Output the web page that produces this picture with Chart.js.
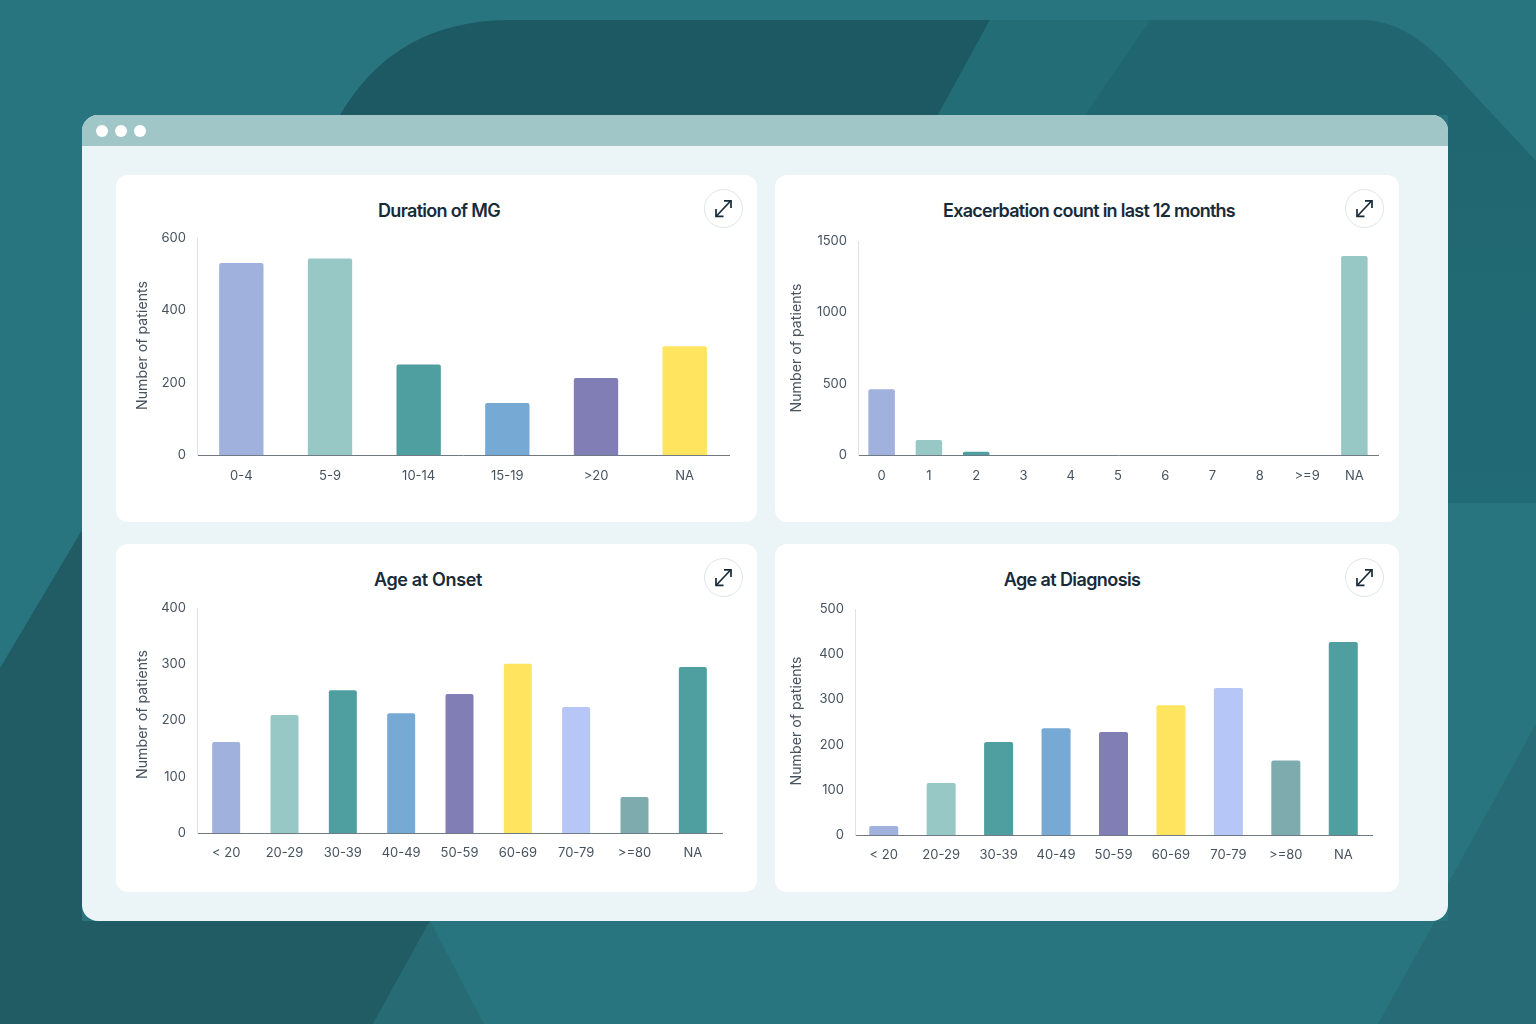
<!DOCTYPE html>
<html>
<head>
<meta charset="utf-8">
<title>Patient charts</title>
<script src="https://cdn.jsdelivr.net/npm/chart.js@4"></script>
<style>
  html, body { margin: 0; padding: 0; width: 1536px; height: 1024px; overflow: hidden; background: #28757f; font-family: Inter, sans-serif; }
  .bg { position: absolute; left: 0; top: 0; }
  .window { position: absolute; left: 82px; top: 115px; width: 1366px; height: 806px; background: #ebf4f6; border-radius: 16px; overflow: hidden; }
  .bar { height: 31px; background: #a1c6c7; }
  .dot { position: absolute; top: 10px; width: 12px; height: 12px; border-radius: 50%; background: #fff; }
  .card { position: absolute; background: #fff; border-radius: 12px; }
  .card canvas { position: absolute; left: 0; top: 0; }
  .title { position: absolute; top: 24.5px; transform: translateX(-50%); white-space: nowrap; font-size: 18px; line-height: 22px; font-weight: 600; color: #172b3a; }
  .expand { position: absolute; top: 14px; width: 37px; height: 37px; border: 1px solid #dfe5e9; border-radius: 50%; background: #fff; }
  .expand svg { position: absolute; left: 0; top: 0; }
</style>
</head>
<body>
<svg class="bg" width="1536" height="1024">
  <defs>
    <linearGradient id="rightFade" x1="0" y1="0" x2="0" y2="1">
      <stop offset="0" stop-color="#20656f"/>
      <stop offset="1" stop-color="#216b76"/>
    </linearGradient>
  </defs>
  <path d="M340 115 C 375 55 430 20 510 20 L 990 20 L 938 115 Z" fill="#1c5962"/>
  <path d="M990 20 L 1365 20 C 1405 22 1435 50 1465 85 L 1536 161 L 1536 503 L 1448 503 L 1448 115 L 938 115 Z" fill="#236d77"/>
  <path d="M1085 115 L 1150 20 L 1365 20 C 1405 22 1435 50 1465 85 L 1536 161 L 1536 503 L 1448 503 L 1448 115 Z" fill="url(#rightFade)"/>
  <path d="M82 530 L 0 668 L 0 1024 L 373 1024 L 430 921 L 82 921 Z" fill="#215c65"/>
  <path d="M430 921 L 484 1024 L 373 1024 Z" fill="#276b74"/>
  <path d="M1448 884 L 1536 724 L 1536 1024 L 1378 1024 L 1435 921 L 1448 921 Z" fill="#266b75"/>
</svg>
<div class="window">
  <div class="bar"></div>
  <div class="dot" style="left:14px"></div>
  <div class="dot" style="left:33px"></div>
  <div class="dot" style="left:52px"></div>
</div>
<div id="cards"></div>
<script>
const PERI = '#a1b1de', MINT = '#98c8c6', TEAL = '#4f9ea0', BLUE = '#77a9d5',
      PURPLE = '#817eb6', YELLOW = '#ffe45f', PALE = '#b5c6f7', SAGE = '#7eabad';

// Duration of MG
const durationLabels = ['0-4', '5-9', '10-14', '15-19', '>20', 'NA'];
const durationValues = [531, 543, 250, 144, 213, 301];
const durationColors = [PERI, MINT, TEAL, BLUE, PURPLE, YELLOW];

// Exacerbation count
const exacLabels = ['0', '1', '2', '3', '4', '5', '6', '7', '8', '>=9', 'NA'];
const exacValues = [460, 105, 22, 0, 0, 0, 0, 0, 0, 0, 1395];
const exacColors = [PERI, MINT, TEAL, BLUE, PURPLE, YELLOW, PALE, SAGE, TEAL, MINT, MINT];

// Age at onset
const onsetLabels = ['< 20', '20-29', '30-39', '40-49', '50-59', '60-69', '70-79', '>=80', 'NA'];
const onsetValues = [162, 210, 254, 213, 247, 301, 224, 64, 295];

// Age at diagnosis
const diagLabels = ['< 20', '20-29', '30-39', '40-49', '50-59', '60-69', '70-79', '>=80', 'NA'];
const diagValues = [20, 115, 206, 236, 228, 287, 325, 165, 427];

const ageColors = [PERI, MINT, TEAL, BLUE, PURPLE, YELLOW, PALE, SAGE, TEAL];

const panels = [
  { title: 'Duration of MG', labels: durationLabels, values: durationValues, colors: durationColors, spacing: -0.68,
    card: [116, 175, 641, 347], plot: [197, 238, 729, 455], max: 600, step: 200, bar: 0.5, titleX: 439, btnX: 704, axisLabel: [143, 345.5], xPad: 13 },
  { title: 'Exacerbation count in last 12 months', labels: exacLabels, values: exacValues, colors: exacColors, spacing: -0.74,
    card: [775, 175, 624, 347], plot: [858, 241, 1378, 455], max: 1500, step: 500, bar: 0.56, titleX: 1089, btnX: 1345, axisLabel: [797, 348], xPad: 13 },
  { title: 'Age at Onset', labels: onsetLabels, values: onsetValues, colors: ageColors, spacing: -0.35,
    card: [116, 544, 641, 348], plot: [197, 608, 722, 833], max: 400, step: 100, bar: 0.48, titleX: 428, btnX: 704, axisLabel: [143, 714.5], xPad: 12 },
  { title: 'Age at Diagnosis', labels: diagLabels, values: diagValues, colors: ageColors, spacing: -0.6,
    card: [775, 544, 624, 348], plot: [855, 609, 1372, 835], max: 500, step: 100, bar: 0.505, titleX: 1072, btnX: 1345, axisLabel: [797, 721], xPad: 12 },
];

const ARROW = `<svg width="37" height="37" viewBox="0 0 37 37" fill="none" stroke="#172b3a" stroke-width="1.7">
  <path d="M11.5 26 L 25.5 11"/><path d="M19 10.8 L 26 10.8 L 26 18"/><path d="M11 19 L 11 26.3 L 18.5 26.3"/></svg>`;

// the y axis title sits a little off the plot's middle in some panels, so it is placed by hand
const axisLabelPlugin = {
  id: 'axisLabel',
  afterDraw(chart, args, opts) {
    const { ctx } = chart;
    ctx.save();
    ctx.translate(opts.x, opts.y);
    ctx.rotate(-Math.PI / 2);
    ctx.font = '14.2px Inter';
    ctx.fillStyle = '#46525e';
    ctx.textAlign = 'center';
    ctx.textBaseline = 'middle';
    ctx.fillText('Number of patients', 0, 0);
    ctx.restore();
  }
};

const holder = document.getElementById('cards');

panels.forEach(p => {
  const [cx, cy, cw, ch] = p.card;
  const [pl, pt, pr, pb] = p.plot;
  const card = document.createElement('div');
  card.className = 'card';
  card.style.cssText = `left:${cx}px;top:${cy}px;width:${cw}px;height:${ch}px`;
  card.innerHTML = `<div class="title" style="left:${p.titleX - cx}px;letter-spacing:${p.spacing}px">${p.title}</div>
    <div class="expand" style="left:${p.btnX - cx}px">${ARROW}</div>
    <canvas width="${cw}" height="${ch}" style="width:${cw}px;height:${ch}px"></canvas>`;
  holder.appendChild(card);

  new Chart(card.querySelector('canvas'), {
    type: 'bar',
    plugins: [axisLabelPlugin],
    data: {
      labels: p.labels,
      datasets: [{
        data: p.values,
        backgroundColor: p.colors,
        barPercentage: p.bar,
        categoryPercentage: 1,
        borderRadius: { topLeft: 2, topRight: 2 },
        borderSkipped: 'bottom'
      }]
    },
    options: {
      responsive: false,
      animation: false,
      layout: { padding: { left: 0, top: pt - cy, right: cx + cw - pr, bottom: 0 } },
      plugins: {
        legend: { display: false },
        tooltip: { enabled: false },
        axisLabel: { x: p.axisLabel[0] - cx, y: p.axisLabel[1] - cy }
      },
      scales: {
        x: {
          grid: { display: false, drawTicks: false },
          border: { color: '#6f7a84', width: 1 },
          ticks: { color: '#46525e', font: { family: 'Inter', size: 13 }, padding: p.xPad, maxRotation: 0, autoSkip: false },
          afterFit: s => { s.height = cy + ch - pb; }
        },
        y: {
          min: 0, max: p.max,
          grid: { display: false, drawTicks: false },
          border: { color: '#dfe3e6', width: 1 },
          ticks: { stepSize: p.step, color: '#46525e', font: { family: 'Inter', size: 13 }, padding: 11, format: { useGrouping: false } },
          afterFit: s => { s.width = pl - cx; }
        }
      }
    }
  });
});
</script>
</body>
</html>
